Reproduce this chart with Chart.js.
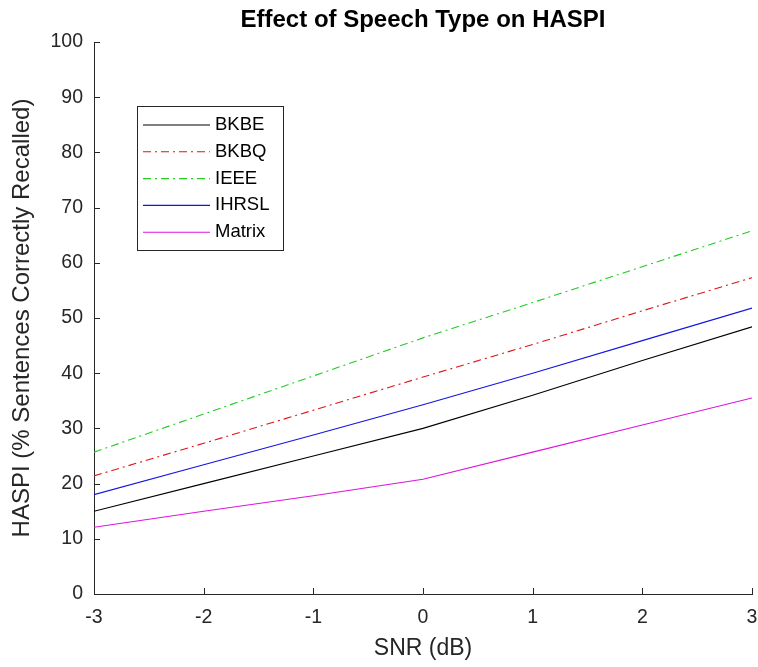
<!DOCTYPE html>
<html lang="en">
<head>
<meta charset="utf-8">
<title>Effect of Speech Type on HASPI</title>
<script src="https://cdn.jsdelivr.net/npm/chart.js@4.4.1/dist/chart.umd.min.js"></script>
<style>
  html, body { margin: 0; padding: 0; background: #fff; }
  #chart { display: block; }
</style>
</head>
<body>
<canvas id="chart" width="758" height="667"></canvas>
<script>
// values
const snr = [-3, -2, -1, 0, 1, 2, 3];
const bkbe = [15.0, 20.0, 25.0, 30.0, 36.0, 42.3, 48.4];
const bkbq = [21.4, 27.3, 33.3, 39.3, 45.2, 51.3, 57.3];
const ieee = [25.7, 32.6, 39.5, 46.4, 52.8, 59.3, 65.8];
const ihrsl = [18.0, 23.4, 28.8, 34.3, 40.0, 45.9, 51.8];
const matrix = [12.1, 15.0, 17.8, 20.8, 25.7, 30.6, 35.5];

const seriesNames = ['BKBE', 'BKBQ', 'IEEE', 'IHRSL', 'Matrix'];
const xTicks = [-3, -2, -1, 0, 1, 2, 3];
const yTicks = [0, 10, 20, 30, 40, 50, 60, 70, 80, 90, 100];

const FONT = '"Liberation Sans", Arial, Helvetica, sans-serif';
const AXIS = '#262626';
const dashDot = [8, 4, 2, 4];

function series(name, values, color, dash) {
  return {
    label: name,
    data: snr.map((x, i) => ({ x: x, y: values[i] })),
    borderColor: color,
    backgroundColor: color,
    borderWidth: 1.1,
    borderDash: dash,
    pointRadius: 0,
    tension: 0,
    fill: false
  };
}

// MATLAB style ticks pointing into the axes
const inwardTicks = {
  id: 'inwardTicks',
  afterDraw(chart) {
    const ctx = chart.ctx;
    const xs = chart.scales.x, ys = chart.scales.y;
    const len = 6;
    ctx.save();
    ctx.strokeStyle = AXIS;
    ctx.lineWidth = 1;
    ctx.beginPath();
    xTicks.forEach(v => {
      const px = Math.round(xs.getPixelForValue(v)) + 0.5;
      ctx.moveTo(px, ys.bottom);
      ctx.lineTo(px, ys.bottom - len);
    });
    yTicks.forEach(v => {
      const py = Math.round(ys.getPixelForValue(v)) + 0.5;
      ctx.moveTo(xs.left, py);
      ctx.lineTo(xs.left + len, py);
    });
    ctx.stroke();
    ctx.restore();
  }
};

// boxed legend inside the plot, upper left
const boxLegend = {
  id: 'boxLegend',
  afterDraw(chart) {
    const ctx = chart.ctx;
    const area = chart.chartArea;
    const x0 = area.left + 43, y0 = area.top + 64;
    const w = 146, h = 144, row = 26.8;
    ctx.save();
    ctx.fillStyle = '#fff';
    ctx.fillRect(x0, y0, w, h);
    ctx.strokeStyle = AXIS;
    ctx.lineWidth = 1;
    ctx.strokeRect(x0 + 0.5, y0 + 0.5, w, h);
    ctx.font = '18.5px ' + FONT;
    ctx.textBaseline = 'middle';
    ctx.textAlign = 'left';
    chart.data.datasets.forEach((ds, i) => {
      const y = y0 + 19 + i * row;
      ctx.strokeStyle = ds.borderColor;
      ctx.lineWidth = ds.borderWidth;
      ctx.setLineDash(ds.borderDash || []);
      ctx.beginPath();
      ctx.moveTo(x0 + 6, y);
      ctx.lineTo(x0 + 73, y);
      ctx.stroke();
      ctx.setLineDash([]);
      ctx.fillStyle = '#000';
      ctx.fillText(ds.label, x0 + 78, y);
    });
    ctx.restore();
  }
};

new Chart(document.getElementById('chart'), {
  type: 'line',
  data: {
    datasets: [
      series(seriesNames[0], bkbe, '#000000', []),
      series(seriesNames[1], bkbq, '#dd1515', dashDot),
      series(seriesNames[2], ieee, '#22cc22', dashDot),
      series(seriesNames[3], ihrsl, '#1515dd', []),
      series(seriesNames[4], matrix, '#dd15dd', [])
    ]
  },
  options: {
    responsive: false,
    animation: false,
    devicePixelRatio: 1,
    layout: { padding: 0 },
    plugins: {
      legend: { display: false },
      tooltip: { enabled: false },
      title: {
        display: true,
        fullSize: false,
        text: 'Effect of Speech Type on HASPI',
        color: '#000',
        font: { family: FONT, size: 24, weight: 'bold' },
        padding: { top: 5.6, bottom: 7.6 }
      }
    },
    scales: {
      x: {
        type: 'linear',
        min: -3,
        max: 3,
        afterBuildTicks: s => { s.ticks = xTicks.map(v => ({ value: v })); },
        afterFit: s => { s.height = 73; s.paddingRight = 6; s.paddingLeft = 0; },
        grid: { display: false, drawTicks: false },
        border: { display: true, color: AXIS, width: 1 },
        ticks: { color: AXIS, font: { family: FONT, size: 19.5 }, padding: 12 },
        title: {
          display: true,
          text: 'SNR (dB)',
          color: AXIS,
          font: { family: FONT, size: 23 },
          padding: { top: 0, bottom: 5 }
        }
      },
      y: {
        type: 'linear',
        min: 0,
        max: 100,
        afterBuildTicks: s => { s.ticks = yTicks.map(v => ({ value: v })); },
        afterFit: s => { s.width = 94; s.paddingTop = 0; s.paddingBottom = 0; },
        grid: { display: false, drawTicks: false },
        border: { display: true, color: AXIS, width: 1 },
        ticks: { color: AXIS, font: { family: FONT, size: 19.5 }, padding: 11 },
        title: {
          display: true,
          text: 'HASPI (% Sentences Correctly Recalled)',
          color: AXIS,
          font: { family: FONT, size: 24 },
          padding: { top: 7.6, bottom: 0 }
        }
      }
    }
  },
  plugins: [inwardTicks, boxLegend]
});
</script>
</body>
</html>
